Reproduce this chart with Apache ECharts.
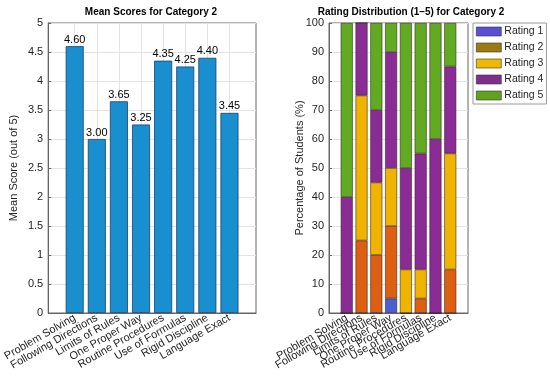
<!DOCTYPE html>
<html>
<head>
<meta charset="utf-8">
<script src="https://cdn.jsdelivr.net/npm/echarts@6/dist/echarts.min.js"></script>
<style>html,body{margin:0;padding:0;background:#fff;}#c{width:550px;height:376px;}</style>
</head>
<body>
<div id="c"></div>
<script>
const categories = ['Problem Solving','Following Directions','Limits of Rules','One Proper Way','Routine Procedures','Use of Formulas','Rigid Discipline','Language Exact'];
const meanScores = [4.60, 3.00, 3.65, 3.25, 4.35, 4.25, 4.40, 3.45];
const rating1 = [0, 0, 0, 5, 0, 0, 0, 0];
const rating2 = [0, 25, 20, 25, 0, 5, 0, 15];
const rating3 = [0, 50, 25, 20, 15, 10, 0, 40];
const rating4 = [40, 25, 25, 40, 35, 40, 60, 30];
const rating5 = [60, 0, 30, 10, 50, 45, 40, 15];
const ratingNames = ['Rating 1','Rating 2','Rating 3','Rating 4','Rating 5'];

const ratings = [rating1, rating2, rating3, rating4, rating5];
const ratingColors = ['#4a5fd0', '#dd5f12', '#f0b400', '#8a2b96', '#62aa22'];
const legendColors = ['#5a4fd2', '#9c7a12', '#f0b800', '#7e2f8e', '#62a020'];
const idx = categories.map((c, i) => i);
const font = 'Liberation Sans, Arial, Helvetica, sans-serif';
const axisColor = '#666';
const textColor = '#262626';
const labelStyle = { rotate: 30, fontSize: 11, color: textColor, fontFamily: font, margin: 4 };

function xAxisCfg(g, showLabels) {
  return {
    type: 'value', gridIndex: g, min: -1.2, max: 8.2,
    axisLine: { show: true, onZero: false, lineStyle: { color: axisColor } },
    axisTick: { show: true, inside: true, length: 3, customValues: idx, lineStyle: { color: axisColor } },
    axisLabel: Object.assign({ show: showLabels, customValues: idx, formatter: v => categories[v], hideOverlap: false }, labelStyle),
    splitLine: { show: true, lineStyle: { color: '#e3e3e3' } }
  };
}
function yAxisCfg(g, max, interval, name, gap, moveOverlap) {
  return {
    type: 'value', gridIndex: g, min: 0, max: max, interval: interval,
    name: name, nameLocation: 'middle', nameGap: gap, nameMoveOverlap: moveOverlap,
    nameTextStyle: { fontSize: 11, color: textColor, fontFamily: font },
    axisLine: { show: true, onZero: false, lineStyle: { color: axisColor } },
    axisTick: { show: true, inside: true, length: 3, lineStyle: { color: axisColor } },
    axisLabel: { fontSize: 11, color: textColor, fontFamily: font, margin: 5 },
    splitLine: { show: true, lineStyle: { color: '#e3e3e3' } }
  };
}

const series = [{
  type: 'bar', xAxisIndex: 0, yAxisIndex: 0, barWidth: 18, z: 2,
  data: meanScores.map((v, i) => [v, i]),
  encode: { x: 1, y: 0 },
  itemStyle: { color: '#1a8fd0', borderColor: '#1b3f6a', borderWidth: 0.8 },
  label: { show: true, position: 'top', distance: 1, formatter: p => p.value[0].toFixed(2), fontSize: 11, color: '#000', fontFamily: font }
}];
ratings.forEach((arr, k) => {
  series.push({
    type: 'bar', name: ratingNames[k], xAxisIndex: 1, yAxisIndex: 1, stack: 'r', barWidth: 12, z: 2,
    data: arr.map((v, i) => [v, i]),
    encode: { x: 1, y: 0 },
    itemStyle: { color: ratingColors[k], borderColor: '#3a2a2a', borderWidth: 0.6 }
  });
});

// right plot: value axis spans -1.2..8.2 over 139px; category band = 139/9.4
const rBand = 139 / 9.4;
const rLabelLeft = 329 + 0.7 * rBand;

const option = {
  animation: false,
  backgroundColor: '#fff',
  title: [
    { text: 'Mean Scores for Category 2', left: 146, top: 2, textAlign: 'center', textStyle: { fontSize: 10, fontWeight: 'bold', color: '#000', fontFamily: font } },
    { text: 'Rating Distribution (1\u20135) for Category 2', left: 406, top: 2, textAlign: 'center', textStyle: { fontSize: 10, fontWeight: 'bold', color: '#000', fontFamily: font } }
  ],
  legend: {
    orient: 'vertical', left: 473, top: 23, padding: [3, 3, 3, 3],
    itemWidth: 25, itemHeight: 9, itemGap: 5,
    backgroundColor: '#fff', borderColor: '#999', borderWidth: 1,
    textStyle: { fontSize: 10.5, color: textColor, fontFamily: font, padding: [0, 0, 0, -2] },
    data: ratingNames.map((n, k) => ({ name: n, icon: 'rect', itemStyle: { color: legendColors[k], borderColor: '#333', borderWidth: 0.6 } }))
  },
  grid: [
    { left: 39, top: 23, width: 217, height: 290, show: true, borderColor: axisColor, borderWidth: 1, backgroundColor: 'transparent' },
    { left: 329, top: 23, width: 139, height: 290, show: true, borderColor: axisColor, borderWidth: 1, backgroundColor: 'transparent' },
    { left: rLabelLeft, top: 23, width: 8 * rBand, height: 290, show: false }
  ],
  xAxis: [
    xAxisCfg(0, true),
    xAxisCfg(1, false),
    { type: 'category', gridIndex: 2, data: categories, boundaryGap: true,
      axisLine: { show: false }, axisTick: { show: false }, splitLine: { show: false },
      axisLabel: Object.assign({ interval: 0 }, labelStyle) }
  ],
  yAxis: [
    yAxisCfg(0, 5, 0.5, 'Mean Score (out of 5)', 29, true),
    yAxisCfg(1, 100, 10, 'Percentage of Students (%)', 24, false),
    { type: 'value', gridIndex: 2, show: false }
  ],
  series: series
};
const chart = echarts.init(document.getElementById('c'), null, { renderer: 'canvas' });
chart.setOption(option);
</script>
</body>
</html>
